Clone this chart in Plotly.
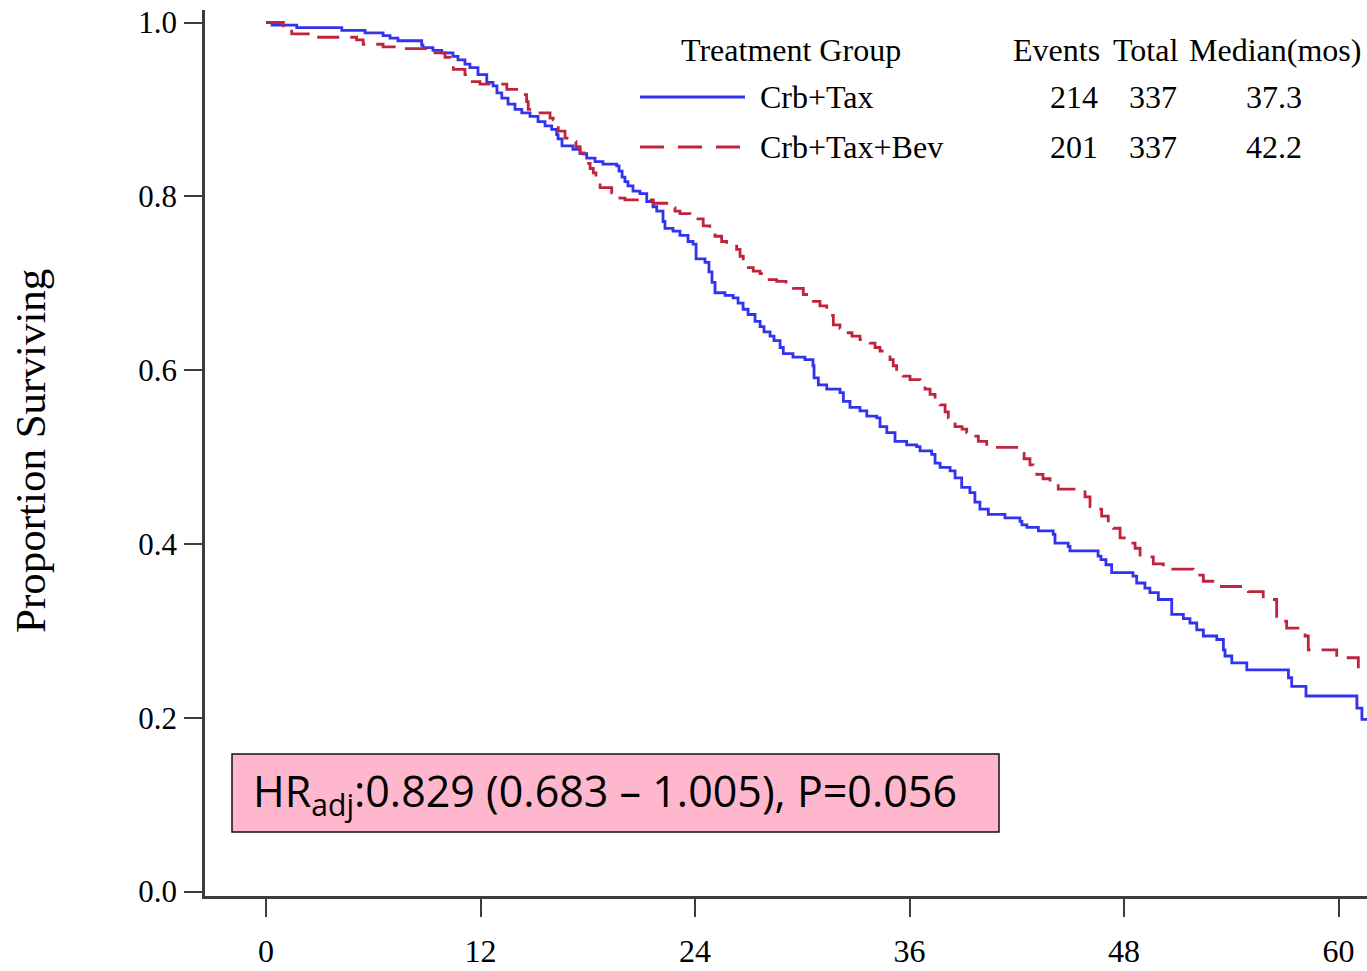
import plotly.graph_objects as go

# ---------------- data ----------------
blue_t = [0, 0.34, 1.72, 4.24, 5.54, 6.55, 6.94, 7.38, 8.71, 8.78, 9.34, 9.83, 10.46, 10.74, 11.13, 11.41,
          11.86, 12.35, 12.70, 12.92, 13.19, 13.54, 13.93, 14.31, 14.77, 15.22, 15.61, 15.98, 16.26, 16.34,
          16.56, 17.17, 17.57, 17.94, 18.41, 18.85, 19.62, 19.75, 19.92, 20.08, 20.25, 20.53, 20.92, 21.30,
          21.65, 21.86, 22.21, 22.32, 22.77, 23.16, 23.61, 23.89, 24.06, 24.56, 24.78, 24.95, 25.12, 25.68,
          26.13, 26.41, 26.69, 26.97, 27.36, 27.64, 27.86, 28.20, 28.42, 28.76, 28.94, 29.48, 30.15, 30.60,
          30.66, 30.90, 31.37, 32.11, 32.30, 32.67, 33.23, 33.61, 34.17, 34.35, 34.73, 35.19, 35.84, 36.40,
          36.59, 37.24, 37.43, 37.71, 38.27, 38.55, 38.92, 39.38, 39.66, 39.94, 40.41, 41.34, 42.18, 42.29,
          42.57, 43.21, 44.04, 44.14, 44.88, 44.98, 46.55, 46.71, 46.99, 47.31, 48.50, 48.71, 49.17, 49.45,
          49.92, 50.67, 51.32, 51.69, 52.07, 52.44, 53.19, 53.56, 53.65, 54.03, 54.87, 57.20, 57.38, 58.18,
          61.03, 61.31, 61.6]
blue_s = [1.000, 0.997, 0.994, 0.991, 0.988, 0.985, 0.982, 0.979, 0.974, 0.971, 0.968, 0.965, 0.961, 0.957,
          0.952, 0.948, 0.940, 0.931, 0.927, 0.919, 0.913, 0.906, 0.900, 0.896, 0.892, 0.886, 0.881, 0.877,
          0.871, 0.866, 0.858, 0.854, 0.849, 0.844, 0.840, 0.837, 0.835, 0.829, 0.822, 0.817, 0.812, 0.806,
          0.803, 0.794, 0.788, 0.783, 0.771, 0.763, 0.760, 0.755, 0.748, 0.745, 0.728, 0.724, 0.713, 0.701,
          0.689, 0.686, 0.683, 0.677, 0.670, 0.664, 0.656, 0.650, 0.644, 0.639, 0.634, 0.626, 0.619, 0.615,
          0.612, 0.605, 0.591, 0.583, 0.578, 0.574, 0.564, 0.557, 0.553, 0.547, 0.545, 0.535, 0.528, 0.518,
          0.514, 0.512, 0.507, 0.503, 0.493, 0.488, 0.484, 0.476, 0.465, 0.459, 0.448, 0.440, 0.434, 0.430,
          0.426, 0.422, 0.419, 0.415, 0.411, 0.401, 0.397, 0.392, 0.386, 0.382, 0.376, 0.367, 0.363, 0.355,
          0.349, 0.344, 0.336, 0.319, 0.314, 0.309, 0.301, 0.294, 0.290, 0.278, 0.271, 0.263, 0.255, 0.246,
          0.236, 0.225, 0.211, 0.198, 0.198]

red_t = [0, 0.97, 1.44, 2.46, 5.07, 5.44, 6.55, 7.68, 9.36, 10.01, 10.29, 10.48, 11.13, 11.41, 11.97, 13.47,
         14.21, 14.58, 14.67, 15.33, 15.89, 16.07, 16.22, 16.35, 16.73, 17.10, 17.34, 17.57, 17.79, 17.94,
         18.13, 18.31, 18.46, 18.69, 19.34, 19.80, 20.08, 21.67, 22.42, 22.88, 23.16, 23.72, 24.46, 24.83,
         25.12, 25.49, 25.77, 26.33, 26.52, 26.70, 26.89, 27.26, 27.64, 28.01, 28.57, 29.09, 29.50, 30.06,
         30.62, 30.99, 31.37, 31.55, 31.74, 32.11, 32.49, 32.78, 33.23, 33.79, 34.07, 34.35, 34.63, 34.91,
         35.09, 35.28, 35.64, 36.03, 36.59, 36.87, 37.15, 37.43, 37.71, 37.99, 38.17, 38.38, 38.55, 38.94,
         39.20, 39.50, 39.85, 40.32, 42.09, 42.41, 42.74, 42.91, 43.12, 43.47, 43.86, 44.32, 45.82, 46.10,
         46.47, 46.75, 47.12, 47.40, 47.78, 48.34, 48.62, 48.90, 49.64, 50.20, 51.88, 52.44, 53.28, 54.96,
         55.79, 56.54, 57.10, 58.13, 58.31, 59.90, 61.11, 61.6]
red_s = [1.000, 0.994, 0.987, 0.983, 0.980, 0.975, 0.972, 0.970, 0.965, 0.960, 0.950, 0.946, 0.940, 0.932,
         0.929, 0.923, 0.917, 0.909, 0.900, 0.896, 0.890, 0.888, 0.881, 0.875, 0.867, 0.863, 0.857, 0.850,
         0.845, 0.838, 0.832, 0.827, 0.820, 0.810, 0.804, 0.798, 0.796, 0.792, 0.787, 0.783, 0.780, 0.774,
         0.766, 0.761, 0.754, 0.748, 0.745, 0.739, 0.731, 0.722, 0.718, 0.714, 0.711, 0.704, 0.702, 0.697,
         0.694, 0.687, 0.679, 0.674, 0.670, 0.663, 0.652, 0.648, 0.643, 0.639, 0.635, 0.631, 0.626, 0.622,
         0.617, 0.612, 0.605, 0.597, 0.593, 0.589, 0.583, 0.578, 0.572, 0.566, 0.560, 0.552, 0.545, 0.540,
         0.535, 0.532, 0.528, 0.524, 0.518, 0.511, 0.504, 0.498, 0.491, 0.486, 0.480, 0.475, 0.471, 0.463,
         0.454, 0.443, 0.440, 0.432, 0.424, 0.418, 0.407, 0.401, 0.395, 0.385, 0.377, 0.371, 0.364, 0.357,
         0.351, 0.345, 0.336, 0.311, 0.303, 0.294, 0.278, 0.269, 0.257, 0.257]

groups = ["Crb+Tax", "Crb+Tax+Bev"]
events = ["214", "201"]
totals = ["337", "337"]
medians = ["37.3", "42.2"]

x_ticks = [0, 12, 24, 36, 48, 60]
y_ticks = [0.0, 0.2, 0.4, 0.6, 0.8, 1.0]
y_ticklabels = ["0.0", "0.2", "0.4", "0.6", "0.8", "1.0"]

hr_text = "HR<sub>adj</sub>:0.829 (0.683 \u2013 1.005), P=0.056"

# ---------------- styling ----------------
BLUE = "#3232F0"
RED = "#C0243C"
AXIS = "#3C3C3C"
SERIF = "Liberation Serif"
W, H = 1367, 971
ML, MR, MT, MB = 205, 0, 10, 75
PW, PH = W - ML - MR, H - MT - MB


def px_x(p):
    return (p - ML) / PW


def px_y(p):
    return (H - MB - p) / PH


fig = go.Figure()
fig.add_trace(go.Scatter(x=blue_t, y=blue_s, mode="lines", line_shape="hv",
                         line=dict(color=BLUE, width=2.8), name=groups[0], showlegend=False))
fig.add_trace(go.Scatter(x=red_t, y=red_s, mode="lines", line_shape="hv",
                         line=dict(color=RED, width=2.8, dash="22px,11px"), name=groups[1],
                         showlegend=False))

shapes = []
annotations = []

# legend samples
shapes.append(dict(type="line", xref="paper", yref="paper", x0=px_x(640), x1=px_x(745),
                   y0=px_y(97), y1=px_y(97), line=dict(color=BLUE, width=2.8)))
shapes.append(dict(type="line", xref="paper", yref="paper", x0=px_x(640), x1=px_x(745),
                   y0=px_y(147), y1=px_y(147), line=dict(color=RED, width=2.8, dash="24px,14px")))

# HR box
shapes.append(dict(type="rect", xref="paper", yref="paper", x0=px_x(232), x1=px_x(999),
                   y0=px_y(832), y1=px_y(754), fillcolor="#FFB7CD",
                   line=dict(color="#111111", width=1.5), layer="above"))

tf = dict(family=SERIF, size=32, color="black")
annotations.append(dict(text="Treatment Group", x=px_x(791), y=px_y(50), xref="paper", yref="paper",
                        showarrow=False, xanchor="center", yanchor="middle", font=tf))
for txt, cx in [("Events", 1056), ("Total", 1145), ("Median(mos)", 1275)]:
    annotations.append(dict(text=txt, x=px_x(cx), y=px_y(50), xref="paper", yref="paper",
                            showarrow=False, xanchor="center", yanchor="middle", font=tf))
for i, row_y in enumerate([97, 147]):
    annotations.append(dict(text=groups[i], x=px_x(758), y=px_y(row_y), xref="paper", yref="paper",
                            showarrow=False, xanchor="left", yanchor="middle", font=tf))
    annotations.append(dict(text=events[i], x=px_x(1074), y=px_y(row_y), xref="paper", yref="paper",
                            showarrow=False, xanchor="center", yanchor="middle", font=tf))
    annotations.append(dict(text=totals[i], x=px_x(1153), y=px_y(row_y), xref="paper", yref="paper",
                            showarrow=False, xanchor="center", yanchor="middle", font=tf))
    annotations.append(dict(text=medians[i], x=px_x(1274), y=px_y(row_y), xref="paper", yref="paper",
                            showarrow=False, xanchor="center", yanchor="middle", font=tf))

annotations.append(dict(text=hr_text, x=px_x(251), y=px_y(793), xref="paper", yref="paper",
                        showarrow=False, xanchor="left", yanchor="middle",
                        font=dict(family="Open Sans", size=43, color="black")))

annotations.append(dict(text="Proportion Surviving", x=px_x(30), y=px_y(451), xref="paper", yref="paper",
                        showarrow=False, xanchor="center", yanchor="middle", textangle=-90,
                        font=dict(family=SERIF, size=43, color="black")))

x0_px, x60_px = 266.0, 1338.5
per_month = (x60_px - x0_px) / 60.0
y0_px, y1_px = 891.5, 22.5
per_unit = y0_px - y1_px

fig.update_layout(
    width=W, height=H, autosize=False,
    margin=dict(l=ML, r=MR, t=MT, b=MB, pad=0),
    paper_bgcolor="white", plot_bgcolor="white",
    shapes=shapes, annotations=annotations,
    xaxis=dict(range=[(ML - x0_px) / per_month, (W - MR - x0_px) / per_month],
               tickvals=x_ticks, ticktext=[str(v) for v in x_ticks],
               showgrid=False, zeroline=False, showline=True, linecolor=AXIS, linewidth=2.5,
               ticks="outside", ticklen=18, tickwidth=2, tickcolor=AXIS,
               tickfont=dict(family=SERIF, size=32, color="black"), ticklabelstandoff=7),
    yaxis=dict(range=[-(H - MB - y0_px) / per_unit, (y0_px - MT) / per_unit],
               tickvals=y_ticks, ticktext=y_ticklabels,
               showgrid=False, zeroline=False, showline=True, linecolor=AXIS, linewidth=2.5,
               ticks="outside", ticklen=18, tickwidth=2, tickcolor=AXIS,
               tickfont=dict(family=SERIF, size=31, color="black"), ticklabelstandoff=1),
)

fig.write_html("out.html")
